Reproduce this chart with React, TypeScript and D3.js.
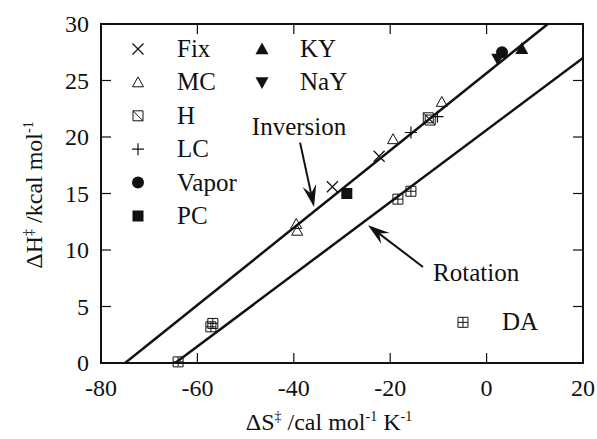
import React from "react";
import * as d3 from "d3";

const W = 597, H = 439;
const xTicks = [-80, -60, -40, -20, 0, 20];
const yTicks = [0, 5, 10, 15, 20, 25, 30];

const fixPts = [{ x: -32, y: 15.6 }, { x: -22.3, y: 18.3 }];
const mcPts = [{ x: -39.5, y: 12.3 }, { x: -39.3, y: 11.7 }, { x: -19.4, y: 19.8 }, { x: -9.3, y: 23.1 }];
const hPts = [{ x: -12.1, y: 21.7 }, { x: -11.7, y: 21.5 }];
const lcPts = [{ x: -15.7, y: 20.4 }, { x: -10.2, y: 21.8 }];
const vaporPts = [{ x: 3.2, y: 27.5 }];
const pcPts = [{ x: -29, y: 15.0 }];
const kyPts = [{ x: 7.3, y: 27.8 }];
const nayPts = [{ x: 2.3, y: 26.9 }];
const daPts = [{ x: -18.4, y: 14.5 }, { x: -15.7, y: 15.2 }, { x: -57.2, y: 3.2 }, { x: -56.8, y: 3.5 }, { x: -64, y: 0.1 }];

const inversionLine = [{ x: -75, y: 0 }, { x: 12.7, y: 30 }];
const rotationLine = [{ x: -64.6, y: 0 }, { x: 20, y: 27 }];

const legendCol1 = ["Fix", "MC", "H", "LC", "Vapor", "PC"];
const legendCol2 = ["KY", "NaY"];

const FONT = "Liberation Serif, Times New Roman, Times, DejaVu Serif, serif";

type Shape = "x" | "tri" | "h" | "plus" | "circle" | "square" | "triUp" | "triDown" | "da";

function Marker({ shape, cx, cy }: { shape: Shape; cx: number; cy: number }) {
  const k = "#111";
  switch (shape) {
    case "x": {
      const s = 5.5;
      return <path d={`M${cx - s},${cy - s}L${cx + s},${cy + s}M${cx - s},${cy + s}L${cx + s},${cy - s}`} stroke={k} strokeWidth={1.2} fill="none" />;
    }
    case "plus": {
      const s = 6;
      return <path d={`M${cx - s},${cy}L${cx + s},${cy}M${cx},${cy - s}L${cx},${cy + s}`} stroke={k} strokeWidth={1.2} fill="none" />;
    }
    case "tri": {
      const s = 5.5;
      return <path d={`M${cx},${cy - s}L${cx + s},${cy + s * 0.8}L${cx - s},${cy + s * 0.8}Z`} stroke={k} strokeWidth={1} fill="none" />;
    }
    case "h": {
      const s = 5;
      return <path d={`M${cx - s},${cy - s}h${2 * s}v${2 * s}h${-2 * s}ZM${cx - s},${cy - s}L${cx + s},${cy + s}`} stroke={k} strokeWidth={1} fill="none" />;
    }
    case "da": {
      const s = 5;
      return <path d={`M${cx - s},${cy - s}h${2 * s}v${2 * s}h${-2 * s}ZM${cx - s},${cy}h${2 * s}M${cx},${cy - s}v${2 * s}`} stroke={k} strokeWidth={1} fill="none" />;
    }
    case "circle":
      return <circle cx={cx} cy={cy} r={6} fill={k} />;
    case "square":
      return <rect x={cx - 5.5} y={cy - 5.5} width={11} height={11} fill={k} />;
    case "triUp": {
      const s = 6.5;
      return <path d={`M${cx},${cy - s}L${cx + s},${cy + s * 0.8}L${cx - s},${cy + s * 0.8}Z`} fill={k} />;
    }
    case "triDown": {
      const s = 6.5;
      return <path d={`M${cx},${cy + s}L${cx + s},${cy - s * 0.8}L${cx - s},${cy - s * 0.8}Z`} fill={k} />;
    }
  }
  return null;
}

function Arrow({ x1, y1, x2, y2 }: { x1: number; y1: number; x2: number; y2: number }) {
  const ang = Math.atan2(y2 - y1, x2 - x1);
  const L = 22, hw = 7, notch = 14;
  const bx = x2 - L * Math.cos(ang), by = y2 - L * Math.sin(ang);
  const px = -Math.sin(ang), py = Math.cos(ang);
  const nx = x2 - notch * Math.cos(ang), ny = y2 - notch * Math.sin(ang);
  const d = `M${x2},${y2}L${bx + px * hw},${by + py * hw}L${nx},${ny}L${bx - px * hw},${by - py * hw}Z`;
  return (
    <g>
      <line x1={x1} y1={y1} x2={nx} y2={ny} stroke="#111" strokeWidth={2} />
      <path d={d} fill="#111" />
    </g>
  );
}

export default function App() {
  const left = 101, right = 583, top = 24, bottom = 363;
  const x = d3.scaleLinear().domain([-80, 20]).range([left, right]);
  const y = d3.scaleLinear().domain([0, 30]).range([bottom, top]);
  const line = d3.line<{ x: number; y: number }>().x(d => x(d.x)).y(d => y(d.y));

  const series: { pts: { x: number; y: number }[]; shape: Shape }[] = [
    { pts: fixPts, shape: "x" },
    { pts: mcPts, shape: "tri" },
    { pts: hPts, shape: "h" },
    { pts: lcPts, shape: "plus" },
    { pts: vaporPts, shape: "circle" },
    { pts: pcPts, shape: "square" },
    { pts: nayPts, shape: "triDown" },
    { pts: kyPts, shape: "triUp" },
    { pts: daPts, shape: "da" },
  ];
  const col1Shapes: Shape[] = ["x", "tri", "h", "plus", "circle", "square"];
  const col2Shapes: Shape[] = ["triUp", "triDown"];
  const tickLen = 10;
  const ts = { fontFamily: FONT } as React.CSSProperties;

  return (
    <svg width={W} height={H} style={{ position: "absolute", left: 0, top: 0, background: "#fff", fontFamily: FONT }}>
      <rect x={0} y={0} width={W} height={H} fill="#fff" />
      <clipPath id="plotclip">
        <rect x={left} y={top} width={right - left} height={bottom - top} />
      </clipPath>
      <rect x={left} y={top} width={right - left} height={bottom - top} fill="none" stroke="#111" strokeWidth={2} />
      {xTicks.map(t => (
        <g key={"xt" + t}>
          <line x1={x(t)} x2={x(t)} y1={bottom} y2={bottom - tickLen} stroke="#111" strokeWidth={1.2} />
          <line x1={x(t)} x2={x(t)} y1={top} y2={top + tickLen} stroke="#111" strokeWidth={1.2} />
          <text style={ts} x={x(t)} y={bottom + 33} fontSize={24} textAnchor="middle" fill="#111">{t}</text>
        </g>
      ))}
      {yTicks.map(t => (
        <g key={"yt" + t}>
          <line x1={left} x2={left + tickLen} y1={y(t)} y2={y(t)} stroke="#111" strokeWidth={1.2} />
          <line x1={right} x2={right - tickLen} y1={y(t)} y2={y(t)} stroke="#111" strokeWidth={1.2} />
          <text style={ts} x={left - 12} y={y(t) + 8} fontSize={24} textAnchor="end" fill="#111">{t}</text>
        </g>
      ))}
      <g clipPath="url(#plotclip)">
        <path d={line(inversionLine) || ""} stroke="#111" strokeWidth={2.5} fill="none" />
        <path d={line(rotationLine) || ""} stroke="#111" strokeWidth={2.5} fill="none" />
      </g>
      {series.map((s, i) => (
        <g key={"s" + i}>
          {s.pts.map((p, j) => <Marker key={j} shape={s.shape} cx={x(p.x)} cy={y(p.y)} />)}
        </g>
      ))}
      {legendCol1.map((name, i) => (
        <g key={"l1" + i}>
          <Marker shape={col1Shapes[i]} cx={138} cy={57 + 33.4 * i - 8} />
          <text style={ts} x={177} y={57 + 33.4 * i} fontSize={25} fill="#111">{name}</text>
        </g>
      ))}
      {legendCol2.map((name, i) => (
        <g key={"l2" + i}>
          <Marker shape={col2Shapes[i]} cx={262} cy={57 + 33.4 * i - 8} />
          <text style={ts} x={300} y={57 + 33.4 * i} fontSize={25} fill="#111">{name}</text>
        </g>
      ))}
      <text style={ts} x={x(-48.7)} y={y(20.2)} fontSize={25} fill="#111">Inversion</text>
      <Arrow x1={x(-38.7)} y1={y(19.5)} x2={x(-35.8)} y2={y(13.8)} />
      <text style={ts} x={x(-11.1)} y={y(7.3)} fontSize={25} fill="#111">Rotation</text>
      <Arrow x1={x(-13.2)} y1={y(8.5)} x2={x(-24.6)} y2={y(12.2)} />
      <Marker shape="da" cx={x(-4.9)} cy={y(3.6)} />
      <text style={ts} x={x(3.2)} y={y(2.9)} fontSize={25} fill="#111">DA</text>
      <text style={ts} x={329} y={430} fontSize={24} textAnchor="middle" fill="#111">
        ΔS<tspan dy={-9} fontSize={14}>‡</tspan><tspan dy={9}>{"\u00a0"}/cal mol</tspan><tspan dy={-9} fontSize={14}>-1</tspan><tspan dy={9}> K</tspan><tspan dy={-9} fontSize={14}>-1</tspan>
      </text>
      <text style={ts} transform="translate(42,195) rotate(-90)" fontSize={24} textAnchor="middle" fill="#111">
        ΔH<tspan dy={-9} fontSize={14}>‡</tspan><tspan dy={9}>{"\u00a0"}/kcal mol</tspan><tspan dy={-9} fontSize={14}>-1</tspan>
      </text>
    </svg>
  );
}
